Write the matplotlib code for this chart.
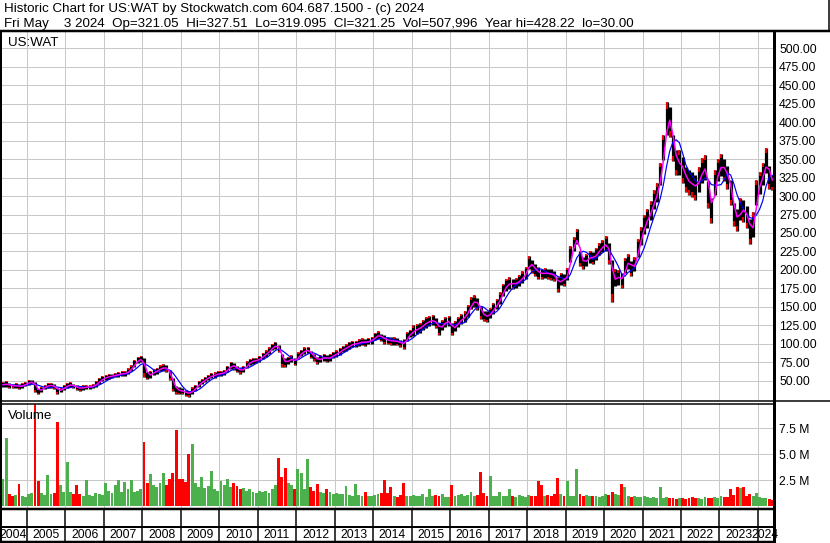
import numpy as np
import pandas as pd
import matplotlib
matplotlib.use('Agg')
import matplotlib.pyplot as plt
from matplotlib.lines import Line2D
from matplotlib.ticker import FormatStrFormatter, FixedFormatter
import matplotlib.transforms as mtransforms

W, H = 830, 543
plt.rcParams['font.family'] = ['Liberation Sans', 'DejaVu Sans']

# ---------------- data (monthly, starting May 2004) ----------------
start_month = '2004-05'
price_mid = [
    45, 46, 44, 43, 44, 42, 44, 46,                                # 2004
    48, 49, 42, 36, 39, 42, 44, 44, 42, 37, 38, 41,                # 2005
    44, 45, 43, 41, 40, 41, 42, 42, 43, 46, 50, 53,                # 2006
    55, 56, 57, 58, 59, 60, 60, 63, 67, 74, 78, 80,                # 2007
    68, 57, 59, 62, 64, 67, 68, 67, 58, 45, 38, 37,                # 2008
    36, 34, 33, 37, 41, 46, 49, 52, 55, 57, 58, 60,                # 2009
    60, 62, 66, 71, 70, 66, 64, 66, 72, 76, 77, 78,                # 2010
    80, 84, 87, 91, 96, 98, 94, 78, 75, 78, 80, 76,                # 2011
    84, 88, 91, 92, 86, 82, 78, 80, 82, 80, 82, 85,                # 2012
    87, 90, 93, 95, 98, 100, 100, 102, 103, 102, 104, 105,         # 2013
    110, 112, 109, 106, 105, 104, 104, 103, 101, 100, 110, 114,    # 2014
    118, 120, 122, 126, 129, 131, 132, 128, 120, 126, 130, 131,    # 2015
    120, 124, 130, 134, 137, 145, 155, 158, 154, 143, 138, 137,    # 2016
    142, 148, 154, 162, 173, 180, 182, 181, 182, 186, 190, 196,    # 2017
    210, 205, 200, 196, 195, 196, 195, 194, 192, 180, 188, 186,    # 2018
    195, 222, 235, 245, 215, 210, 214, 218, 216, 222, 228, 232,    # 2019
    236, 222, 185, 190, 190, 186, 206, 212, 202, 208, 230, 246,    # 2020
    262, 270, 280, 295, 305, 330, 365, 405, 400, 365, 345, 345,    # 2021
    335, 322, 318, 315, 312, 322, 335, 338, 302, 280, 318, 335,    # 2022
    342, 335, 325, 305, 275, 268, 282, 280, 272, 252, 262, 305,    # 2023
    318, 330, 348, 325, 318,                                       # 2024
]
price_half_range = [
    3.5, 3.5, 3.5, 3, 3, 3.5, 3, 3,
    3, 3, 7, 3.5, 3.5, 3, 3.5, 3, 3.5, 4, 3, 3,
    3.5, 3, 3, 3, 3, 3, 3, 3, 3, 3.5, 3.5, 3.5,
    3, 3, 3, 3, 3, 3, 3.5, 4, 4, 5, 4, 4,
    13, 4.5, 4.5, 4, 4, 4, 4.5, 4.5, 7, 9, 5.5, 4.5,
    4, 4, 4, 4.5, 4, 4, 3.5, 3.5, 3.5, 3.5, 3.5, 3.5,
    3.5, 3.5, 4.5, 4.5, 4.5, 4.5, 4, 4, 4.5, 4, 3.5, 3.5,
    4, 4, 4.5, 4.5, 4.5, 4.5, 5, 9, 6, 5, 4.5, 4.5,
    4.5, 4.5, 4.5, 4.5, 5, 4.5, 4.5, 4.5, 4.5, 4.5, 4.5, 4.5,
    4.5, 4.5, 4.5, 4.5, 4.5, 4.5, 4.5, 4.5, 4.5, 4.5, 4.5, 4.5,
    5, 5, 5, 6, 5, 5, 5, 5, 5, 7, 6, 5,
    7, 7, 7, 7, 7, 7, 7, 7, 8, 7, 7, 7,
    8, 7, 7, 7, 7, 8, 8, 8, 8, 9, 7, 7,
    7, 7, 7, 8, 8, 8, 8, 7, 7, 7, 8, 8,
    9, 9, 8, 8, 7, 7, 7, 7, 7, 10, 8, 8,
    8, 11, 9, 10, 10, 8, 8, 8, 8, 8, 8, 8,
    10, 14, 28, 12, 10, 10, 10, 10, 10, 10, 12, 12,
    13, 13, 13, 13, 13, 15, 17, 22, 20, 18, 17, 17,
    18, 17, 17, 17, 17, 17, 17, 17, 18, 17, 17, 15,
    15, 15, 15, 17, 15, 15, 15, 15, 15, 17, 17, 17,
    15, 15, 17, 15, 10,
]
volume_m = [
    2.6, 6.6, 1.2, 1.0, 1.1, 2.1, 1.0, 0.9,
    1.2, 1.3, 9.9, 2.4, 1.3, 1.1, 3.0, 1.2, 1.3, 8.1, 2.0, 1.4,
    4.3, 1.4, 1.2, 2.0, 1.2, 1.0, 2.5, 1.1, 1.0, 1.3, 1.2, 1.1,
    2.2, 1.5, 1.3, 2.0, 2.5, 1.4, 2.3, 1.6, 2.5, 1.4, 1.5, 1.6,
    6.2, 2.2, 3.1, 2.0, 1.8, 2.2, 3.2, 2.0, 2.6, 3.2, 7.3, 2.6,
    2.6, 2.3, 5.0, 6.0, 2.2, 1.8, 2.8, 1.7, 1.9, 3.4, 1.6, 1.5,
    2.4, 2.0, 2.6, 1.8, 2.2, 1.9, 1.6, 1.7, 1.5, 1.6, 1.4, 1.3,
    1.5, 1.4, 1.5, 1.3, 1.6, 2.0, 4.6, 2.8, 3.7, 2.2, 2.0, 1.6,
    3.6, 3.2, 1.6, 4.5, 1.8, 1.5, 2.1, 1.4, 1.3, 1.6, 1.4, 1.2,
    1.3, 1.2, 1.2, 1.9, 1.1, 1.0, 2.1, 1.1, 1.0, 1.4, 1.0, 1.0,
    1.1, 1.2, 1.3, 2.5, 1.3, 1.8, 1.0, 0.9, 1.1, 2.2, 1.0, 1.0,
    1.1, 1.0, 1.0, 1.2, 0.9, 1.6, 1.0, 1.1, 1.0, 1.2, 0.9, 0.9,
    2.0, 1.0, 1.1, 1.2, 1.0, 1.1, 1.4, 1.0, 1.1, 3.3, 1.3, 1.0,
    2.9, 1.0, 1.0, 1.4, 1.0, 1.0, 1.6, 1.0, 0.9, 1.1, 1.0, 0.9,
    1.1, 1.0, 1.0, 2.4, 2.0, 1.0, 1.1, 1.0, 1.2, 2.7, 1.2, 1.0,
    2.4, 1.0, 1.0, 3.6, 1.2, 1.0, 1.1, 1.0, 1.0, 1.0, 0.9, 1.0,
    1.2, 1.1, 1.4, 1.2, 1.1, 2.1, 1.8, 1.0, 0.9, 1.0, 0.9, 0.9,
    1.0, 0.9, 0.8, 0.9, 0.8, 1.8, 0.8, 0.9, 0.8, 0.8, 0.7, 0.8,
    0.8, 0.7, 0.8, 0.9, 0.8, 0.8, 0.7, 0.9, 0.8, 0.8, 0.9, 0.8,
    1.0, 0.9, 0.9, 1.6, 1.1, 1.8, 1.7, 1.8, 1.0, 1.2, 1.0, 1.3,
    0.9, 0.8, 0.8, 0.7, 0.6,
]
price_ticks = list(range(50, 501, 25))
volume_ticks = [2.5, 5.0, 7.5]
volume_tick_labels = ['2.5 M', '5.0 M', '7.5 M']
years = list(range(2004, 2025))
header_line1 = 'Historic Chart for US:WAT by Stockwatch.com 604.687.1500 - (c) 2024'
header_line2 = ('Fri May    3 2024  Op=321.05  Hi=327.51  Lo=319.095  '
                'Cl=321.25  Vol=507,996  Year hi=428.22  lo=30.00')
symbol = 'US:WAT'

# ---------------- derived ----------------
months = pd.date_range(start_month, periods=len(price_mid), freq='MS')
xm = np.asarray(months.year + (months.month - 0.5) / 12.0, dtype=float)
mid = np.array(price_mid, float)
half = np.array(price_half_range, float)
hi = mid + half
lo = mid - half
up = np.r_[True, mid[1:] >= mid[:-1]]
ma_short = pd.Series(mid).rolling(2, min_periods=1).mean().values
ma_long = pd.Series(mid).rolling(5, min_periods=1).mean().values

X0, X1 = 2004.298, 2024.392
P0, P1 = 24.3, 523.0
V0, V1 = -0.19, 9.95

GRID = '#c8c8c8'
PX = 0.72  # points per pixel

fig = plt.figure(figsize=(W / 100, H / 100), dpi=100)
fig.patch.set_facecolor('white')

def fx(px):
    return px / W

def fy(py):
    return 1 - py / H

# ---------------- price panel ----------------
ax = fig.add_axes([0, fy(400), fx(773), (400 - 31) / H])
ax.set_xlim(X0, X1)
ax.set_ylim(P0, P1)
ax.set_xticks(years[1:])
ax.set_yticks(price_ticks)
ax.grid(True, color=GRID, lw=1.0 * PX)
ax.set_axisbelow(True)
ax.yaxis.tick_right()
ax.yaxis.set_major_formatter(FormatStrFormatter('%.2f'))
ax.tick_params(axis='x', length=0, labelbottom=False)
ax.tick_params(axis='y', length=0, pad=6 * PX, labelsize=8.7, labelcolor='#000000')
for s in ax.spines.values():
    s.set_visible(False)

ax.vlines(xm, lo, hi, colors='black', lw=3.2 * PX, zorder=3)
rng = hi - lo
red_lo = np.where(up, hi - 0.2 * rng, lo)
red_hi = np.where(up, hi, lo + 0.2 * rng)
ax.vlines(xm, red_lo, red_hi, colors='#ff0000', lw=1.8 * PX, zorder=3)
ax.plot(xm, ma_long, color='#0000ff', lw=1.2 * PX, zorder=4)
ax.plot(xm, ma_short, color='#ff00ff', lw=1.5 * PX, zorder=5)

# ---------------- volume panel ----------------
axv = fig.add_axes([0, fy(508), fx(773), (508 - 403) / H])
axv.set_xlim(X0, X1)
axv.set_ylim(V0, V1)
axv.set_xticks(years[1:])
axv.set_yticks(volume_ticks)
axv.yaxis.set_major_formatter(FixedFormatter(volume_tick_labels))
axv.grid(True, color=GRID, lw=1.0 * PX)
axv.set_axisbelow(True)
axv.yaxis.tick_right()
axv.tick_params(axis='x', length=0, labelbottom=False)
axv.tick_params(axis='y', length=0, pad=6 * PX, labelsize=8.7, labelcolor='#000000')
for s in axv.spines.values():
    s.set_visible(False)
vcol = np.where(up, '#4cb04c', '#ff0000')
axv.bar(xm, volume_m, width=0.9 / 12, color=vcol, linewidth=0, zorder=3)

# ---------------- frame lines (pixel coordinates) ----------------
def hline(y, x0, x1, lw):
    fig.add_artist(Line2D([fx(x0), fx(x1)], [fy(y), fy(y)], color='black',
                          lw=lw * PX, solid_capstyle='butt'))

def vline(x, y0, y1, lw):
    fig.add_artist(Line2D([fx(x), fx(x)], [fy(y0), fy(y1)], color='black',
                          lw=lw * PX, solid_capstyle='butt'))

hline(31, 0, 830, 2.5)        # header bottom
vline(828.5, 0, 31, 1.5)      # header right edge
vline(1, 31, 543, 2)          # left border
vline(773.5, 31, 543, 3)      # right axis
hline(400.5, 0, 830, 1.5)     # price/volume separator
hline(403.5, 0, 773, 1.5)
hline(509, 0, 773, 2.5)       # volume bottom
hline(526.5, 0, 773, 2)       # year row
hline(541.5, 0, 773, 2.5)     # bottom

blend = mtransforms.blended_transform_factory(axv.transData, fig.transFigure)
for yb in years[1:]:
    fig.add_artist(Line2D([yb, yb], [fy(509), fy(542)], transform=blend,
                          color='black', lw=1.5 * PX))
for yr in years:
    a = max(X0, yr)
    b = min(X1, yr + 1)
    fig.text((a + b) / 2, fy(535), str(yr), transform=blend, ha='center',
             va='center', fontsize=8.7)

# ---------------- texts ----------------
fig.text(fx(4), fy(12.3), header_line1, fontsize=9.6, va='baseline')
fig.text(fx(4), fy(26.7), header_line2, fontsize=9.6, va='baseline')
fig.text(fx(8), fy(45.7), symbol, fontsize=9.6, va='baseline')
fig.text(fx(8), fy(419), 'Volume', fontsize=9.6, va='baseline')

fig.savefig('out.png', dpi=100, facecolor='white')
